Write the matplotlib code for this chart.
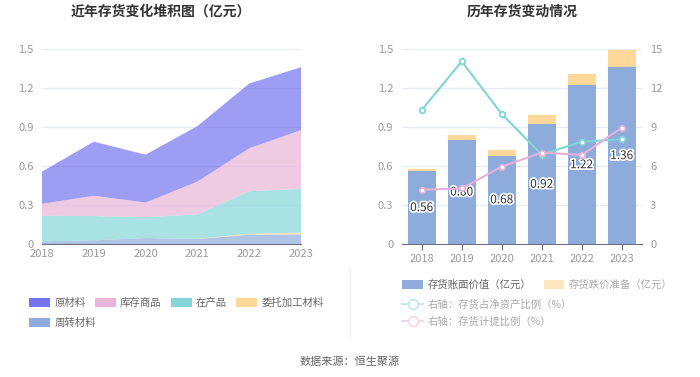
import matplotlib
matplotlib.use('Agg')
import matplotlib.pyplot as plt
import matplotlib.patheffects as pe
from matplotlib.patches import Patch
from matplotlib.lines import Line2D
import numpy as np

plt.rcParams['font.family'] = ['Noto Sans CJK SC', 'DejaVu Sans']

years = ['2018', '2019', '2020', '2021', '2022', '2023']

# left chart components (亿元), bottom to top
zhouzhuan = [0.020, 0.028, 0.046, 0.038, 0.072, 0.074]   # 周转材料
weituo = [0.000, 0.000, 0.000, 0.002, 0.007, 0.013]      # 委托加工材料
zaichanpin = [0.197, 0.187, 0.161, 0.187, 0.327, 0.337]  # 在产品
kucun = [0.092, 0.156, 0.112, 0.253, 0.330, 0.452]       # 库存商品
yuancailiao = [0.248, 0.416, 0.368, 0.427, 0.498, 0.484] # 原材料

# right chart
book_value = [0.56, 0.80, 0.68, 0.92, 1.22, 1.36]   # 存货账面价值
provision = [0.015, 0.04, 0.04, 0.07, 0.09, 0.13]   # 存货跌价准备
ratio_net_assets = [10.3, 14.05, 10.0, 6.87, 7.87, 8.05]  # 存货占净资产比例
ratio_provision = [4.17, 4.27, 5.95, 7.03, 6.85, 8.94]    # 存货计提比例

c_yuan = '#7474f0'
c_kucun = '#e8b5d8'
c_zai = '#85d6d8'
c_wei = '#fdd898'
c_zhou = '#8dacdc'
c_bar = '#8dacdc'
c_prov = '#fdd898'
c_teal = '#7fd6d6'
c_pink = '#e8b0d8'
grid_c = '#e8ebf5'
tick_c = '#999999'

fig = plt.figure(figsize=(7, 3.77), dpi=100)

# ---------- left: stacked area ----------
ax1 = fig.add_axes([42 / 700, 133 / 377, 259 / 700, 195 / 377])
x = np.arange(len(years))
layers = [zhouzhuan, weituo, zaichanpin, kucun, yuancailiao]
cols = [c_zhou, c_wei, c_zai, c_kucun, c_yuan]
ax1.stackplot(x, *layers, colors=cols, alpha=0.7, linewidth=0)
ax1.set_xlim(0, 5)
ax1.set_ylim(0, 1.5)
ax1.set_yticks([0, 0.3, 0.6, 0.9, 1.2, 1.5])
ax1.set_yticklabels(['0', '0.3', '0.6', '0.9', '1.2', '1.5'])
ax1.set_xticks(x)
ax1.set_xticklabels(years)

# ---------- right: bars + lines ----------
ax2 = fig.add_axes([401.7 / 700, 133 / 377, 240 / 700, 195 / 377])
ax2.bar(x, book_value, width=0.69, color=c_bar, zorder=2)
ax2.bar(x, provision, width=0.69, bottom=book_value, color=c_prov, zorder=2)
for xi, v in zip(x, book_value):
    ax2.text(xi, v / 2, f'{v:.2f}', ha='center', va='center', fontsize=8.5,
             color='#333333', zorder=5,
             path_effects=[pe.withStroke(linewidth=2.5, foreground='white')])
ax2.set_xlim(-0.5, 5.5)
ax2.set_ylim(0, 1.5)
ax2.set_yticks([0, 0.3, 0.6, 0.9, 1.2, 1.5])
ax2.set_yticklabels(['0', '0.3', '0.6', '0.9', '1.2', '1.5'])
ax2.set_xticks(x)
ax2.set_xticklabels(years)

ax3 = ax2.twinx()
ax3.plot(x, ratio_net_assets, color=c_teal, lw=1.5, marker='o', ms=4,
         mfc='white', mec=c_teal, mew=1.3, zorder=3)
ax3.plot(x, ratio_provision, color=c_pink, lw=1.5, marker='o', ms=4,
         mfc='white', mec=c_pink, mew=1.3, zorder=3)
ax3.set_ylim(0, 15)
ax3.set_yticks([0, 3, 6, 9, 12, 15])

for ax in (ax1, ax2, ax3):
    for s in ('top', 'right', 'left'):
        ax.spines[s].set_visible(False)
    ax.spines['bottom'].set_color('#6e7079')
    ax.tick_params(axis='y', length=0, labelsize=8, labelcolor=tick_c, pad=6)
    ax.tick_params(axis='x', length=4, color='#6e7079', labelsize=8,
                   labelcolor=tick_c)
ax3.spines['bottom'].set_visible(False)
ax1.tick_params(axis='x', length=0)
for ax in (ax1, ax2):
    ax.grid(axis='y', color=grid_c, lw=1, zorder=0)
    ax.set_axisbelow(True)

# titles
fig.text(161 / 700, 1 - 12 / 377, '近年存货变化堆积图（亿元）', ha='center', va='center',
         fontsize=10, fontweight='bold', color='#333333')
fig.text(522 / 700, 1 - 12 / 377, '历年存货变动情况', ha='center', va='center',
         fontsize=10, fontweight='bold', color='#333333')

# left legend, two rows
leg_kw = dict(frameon=False, fontsize=7.5, labelcolor='#666666',
              handlelength=2.0, handleheight=1.0, handletextpad=0.4,
              columnspacing=0.9)
fig.legend([Patch(fc=c_yuan), Patch(fc=c_kucun), Patch(fc=c_zai), Patch(fc=c_wei)],
           ['原材料', '库存商品', '在产品', '委托加工材料'], ncol=4,
           loc='center left', bbox_to_anchor=(20 / 700, 1 - 303 / 377), **leg_kw)
fig.legend([Patch(fc=c_zhou)], ['周转材料'], ncol=1,
           loc='center left', bbox_to_anchor=(20 / 700, 1 - 323 / 377), **leg_kw)

# right legend
fig.legend([Patch(fc=c_bar), Patch(fc='#fde6c0')],
           ['存货账面价值（亿元）', '存货跌价准备（亿元）'], ncol=2,
           loc='center left', bbox_to_anchor=(393 / 700, 1 - 285 / 377),
           frameon=False, fontsize=7.5, labelcolor=['#666666', '#aaaaaa'],
           handlelength=2.0, handleheight=1.0, handletextpad=0.4,
           columnspacing=1.2)
fig.legend([Line2D([], [], color='#b5e6e6', lw=1.2, marker='o', ms=7,
                   mfc='white', mec='#b5e6e6'),
            Line2D([], [], color='#f0d0e6', lw=1.2, marker='o', ms=7,
                   mfc='white', mec='#f0d0e6')],
           ['右轴：存货占净资产比例（%）', '右轴：存货计提比例（%）'], ncol=1,
           loc='center left', bbox_to_anchor=(393 / 700, 1 - 313 / 377),
           frameon=False, fontsize=7.5, labelcolor='#aaaaaa',
           handlelength=2.0, handletextpad=0.4, labelspacing=0.6)

# divider
fig.add_artist(Line2D([350 / 700, 350 / 700], [1 - 268 / 377, 1 - 336 / 377],
                      color='#f0f0f0', lw=1))

fig.text(0.5, 1 - 362 / 377, '数据来源：恒生聚源', ha='center', va='center',
         fontsize=8, color='#666666')

fig.savefig('out.png', dpi=100)
